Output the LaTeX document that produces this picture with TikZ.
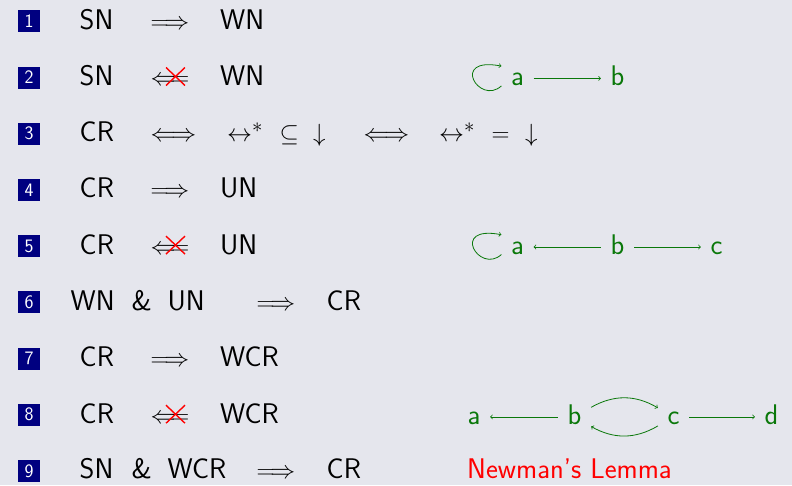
\documentclass[tikz,border=0pt]{standalone}
\usetikzlibrary{calc}
\definecolor{bg}{RGB}{229,230,237}
\definecolor{navy}{RGB}{0,0,128}
\definecolor{grn}{RGB}{10,120,10}
\tikzset{
  txt/.style={inner sep=0pt, anchor=base west, font=\sffamily\fontsize{28.4}{32}\selectfont},
  num/.style={fill=navy, text=white, minimum size=22pt, inner sep=0pt, font=\sffamily\fontsize{19}{22}\selectfont},
  gn/.style={text=grn, anchor=base, inner xsep=9.5pt, inner ysep=2pt, text height=17.2pt, text depth=3pt, font=\sffamily\fontsize{28.4}{32}\selectfont},
  garr/.style={draw=grn, ->, line width=0.8pt},
  crossline/.style={draw=red, line width=1.4pt},
}
\begin{document}
\begin{tikzpicture}[x=1pt,y=-1pt]
\fill[bg] (0,0) rectangle (792,485);
\useasboundingbox (0,0) rectangle (792,485);
% number boxes
\foreach \i in {1,...,9}{
  \node[num] (n\i) at (29, {29.3+56.2*(\i-1)-8}) {\i};
}
% row 1
\node[txt] (r1a) at (79.5,29.3) {SN};
\node[txt] (r1x) at (150.5,29.3) {$\Longrightarrow$};
\node[txt] (r1b) at (220,29.3) {WN};
% row 2
\node[txt] (r2a) at (79.5,85.5) {SN};
\node[txt] (r2x) at (150.5,85.5) {$\Longleftarrow$};
\node[txt] (r2b) at (220,85.5) {WN};
\draw[crossline] ($(r2x.base west)+(15.5,-18)$) -- ($(r2x.base west)+(34.5,0)$);
\draw[crossline] ($(r2x.base west)+(34.5,-18)$) -- ($(r2x.base west)+(15.5,0)$);
% row 3
\node[txt] (r3a) at (79.5,141.7) {CR};
\node[txt] (r3x) at (150.5,141.7) {$\Longleftrightarrow$};
\node[txt] (r3b) at (227,141.7) {$\leftrightarrow^*$};
\node[txt] (r3c) at (279.5,141.7) {$\subseteq$};
\node[txt] (r3d) at (313,141.7) {$\downarrow$};
\node[txt] (r3y) at (363.5,141.7) {$\Longleftrightarrow$};
\node[txt] (r3e) at (439,141.7) {$\leftrightarrow^*$};
\node[txt] (r3f) at (491.5,141.7) {$=$};
\node[txt] (r3g) at (525,141.7) {$\downarrow$};
% row 4
\node[txt] (r4a) at (79.5,197.9) {CR};
\node[txt] (r4x) at (150.5,197.9) {$\Longrightarrow$};
\node[txt] (r4b) at (220,197.9) {UN};
% row 5
\node[txt] (r5a) at (79.5,254.1) {CR};
\node[txt] (r5x) at (150.5,254.1) {$\Longleftarrow$};
\node[txt] (r5b) at (220,254.1) {UN};
\draw[crossline] ($(r5x.base west)+(15.5,-18)$) -- ($(r5x.base west)+(34.5,0)$);
\draw[crossline] ($(r5x.base west)+(34.5,-18)$) -- ($(r5x.base west)+(15.5,0)$);
% row 6
\node[txt] (r6a) at (70.5,310.3) {WN};
\node[txt] (r6m) at (131.5,310.3) {\&};
\node[txt] (r6b) at (167.5,310.3) {UN};
\node[txt] (r6x) at (256.5,310.3) {$\Longrightarrow$};
\node[txt] (r6c) at (326.5,310.3) {CR};
% row 7
\node[txt] (r7a) at (79.5,366.5) {CR};
\node[txt] (r7x) at (150.5,366.5) {$\Longrightarrow$};
\node[txt] (r7b) at (220,366.5) {WCR};
% row 8
\node[txt] (r8a) at (79.5,423.2) {CR};
\node[txt] (r8x) at (150.5,423.2) {$\Longleftarrow$};
\node[txt] (r8b) at (220,423.2) {WCR};
\draw[crossline] ($(r8x.base west)+(15.5,-18)$) -- ($(r8x.base west)+(34.5,0)$);
\draw[crossline] ($(r8x.base west)+(34.5,-18)$) -- ($(r8x.base west)+(15.5,0)$);
% row 9
\node[txt] (r9a) at (79.5,478.9) {SN};
\node[txt] (r9m) at (131.5,478.9) {\&};
\node[txt] (r9b) at (167.5,478.9) {WCR};
\node[txt] (r9x) at (256.5,478.9) {$\Longrightarrow$};
\node[txt] (r9c) at (326.5,478.9) {CR};
\node[txt, text=red] (nl) at (467,478.9) {Newman's Lemma};
% green diagram row 2
\node[gn] (ga2) at (517.5,85.5) {a};
\node[gn] (gb2) at (617.5,85.5) {b};
\draw[garr] (ga2) -- (gb2);
\draw[garr] (ga2.-155) .. controls +(-22,20) and +(-52,-10) .. (ga2.north west);
% green diagram row 5
\node[gn] (ga5) at (517.5,254.1) {a};
\node[gn] (gb5) at (617.5,254.1) {b};
\node[gn] (gc5) at (716.5,254.1) {c};
\draw[garr] (gb5) -- (ga5);
\draw[garr] (gb5) -- (gc5);
\draw[garr] (ga5.-155) .. controls +(-22,20) and +(-52,-10) .. (ga5.north west);
% green diagram row 8
\node[gn] (ga8) at (474,424) {a};
\node[gn] (gb8) at (574.5,424) {b};
\node[gn] (gc8) at (673.5,424) {c};
\node[gn] (gd8) at (771.5,424) {d};
\draw[garr] (gb8) -- (ga8);
\draw[garr] (gc8) -- (gd8);
\draw[garr] (gb8) to[bend left=30] (gc8);
\draw[garr] (gc8) to[bend left=30] (gb8);
\end{tikzpicture}
\end{document}
